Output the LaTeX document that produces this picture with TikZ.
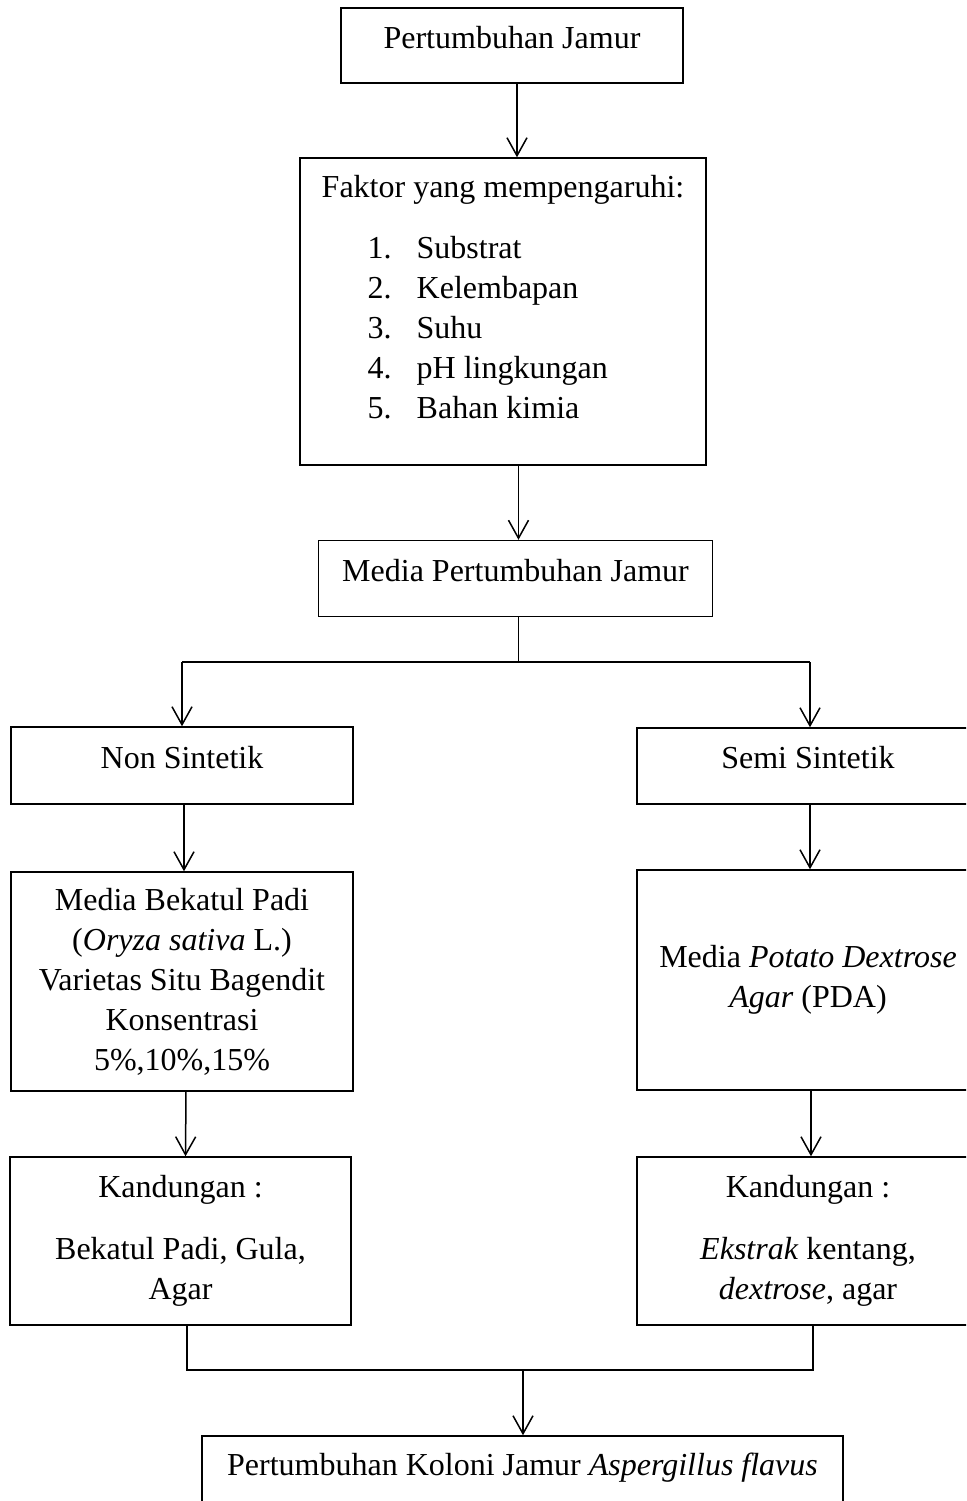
\documentclass[tikz,border=0pt]{standalone}
\usepackage{fontspec}
\setmainfont{Liberation Serif}
\usetikzlibrary{arrows.meta}

\begin{document}
\begin{tikzpicture}[x=0.5pt,y=-0.5pt]
\tikzset{kotak/.style={draw, rectangle, line width=0.75pt, inner sep=0pt, align=center, font=\fontsize{16}{20}\selectfont}}
\tikzset{satubaris/.style={text height=11pt, text depth=8.5pt}}
\tikzset{panah/.style={line width=0.75pt, -{Straight Barb[length=9pt, width=10pt, line width=0.75pt]}}}
\useasboundingbox (0,0) rectangle (966,1501);
\clip (0,0) rectangle (966,1501);
\node[kotak, satubaris, minimum width=171pt, minimum height=37.5pt] (J1) at (512,45.5) {Pertumbuhan Jamur};
\node[kotak, align=left, minimum width=203pt, minimum height=153.5pt] (faktor) at (503,311.5) {Faktor yang mempengaruhi:\\[10.5pt]
\hspace*{23pt}\makebox[24.5pt][l]{1.}Substrat\\
\hspace*{23pt}\makebox[24.5pt][l]{2.}Kelembapan\\
\hspace*{23pt}\makebox[24.5pt][l]{3.}Suhu\\
\hspace*{23pt}\makebox[24.5pt][l]{4.}pH lingkungan\\
\hspace*{23pt}\makebox[24.5pt][l]{5.}Bahan kimia\\[-5pt]\mbox{}};
\node[kotak, satubaris, minimum width=197pt, minimum height=38pt] (media) at (515.5,578.5) {Media Pertumbuhan Jamur};
\node[kotak, satubaris, minimum width=171pt, minimum height=38.5pt] (non) at (182,765.5) {Non Sintetik};
\node[kotak, satubaris, minimum width=171pt, minimum height=38pt] (semi) at (808,766) {Semi Sintetik};
\node[kotak, minimum width=171pt, minimum height=109.5pt] (bekatul) at (182,981.5) {Media Bekatul Padi\\(\textit{Oryza sativa} L.)\\Varietas Situ Bagendit\\Konsentrasi\\5\%,10\%,15\%};
\node[kotak, minimum width=171pt, minimum height=110pt] (pda) at (808,980) {Media \textit{Potato Dextrose}\\\textit{Agar} (PDA)};
\node[kotak, minimum width=170.5pt, minimum height=84pt] (kandkiri) at (180.5,1241) {Kandungan :\\[11pt]Bekatul Padi, Gula,\\Agar};
\node[kotak, minimum width=171pt, minimum height=84pt] (kandkanan) at (808,1241) {Kandungan :\\[11pt]\textit{Ekstrak} kentang,\\\textit{dextrose}, agar};
\node[kotak, satubaris, minimum width=320.5pt, minimum height=37pt] (hasil) at (522.5,1473) {Pertumbuhan Koloni Jamur \textit{Aspergillus flavus}};
\coordinate (cabang) at (518.5,662);
\coordinate (cabangkiri) at (182,662);
\coordinate (cabangkanan) at (810,662);
\coordinate (gabungkiri) at (187,1370);
\coordinate (gabungkanan) at (813,1370);
\coordinate (gabung) at (523,1370);
\draw[panah] ([xshift=2.5pt]J1.south) -- ([xshift=7pt]faktor.north);
\draw[panah] ([xshift=7.75pt]faktor.south) -- ([xshift=1.5pt]media.north);
\draw[line width=0.75pt] (media.south -| cabang) -- (cabang);
\draw[line width=0.75pt] (cabangkiri) -- (cabangkanan);
\draw[panah] (cabangkiri) -- (cabangkiri |- non.north);
\draw[panah] (cabangkanan) -- (cabangkanan |- semi.north);
\draw[panah] ([xshift=1pt]non.south) -- ([xshift=1pt]bekatul.north);
\draw[panah] ([xshift=1pt]semi.south) -- ([xshift=1pt]pda.north);
\draw[panah] ([xshift=2pt]bekatul.south) -- ([xshift=2.5pt]kandkiri.north);
\draw[panah] ([xshift=1.5pt]pda.south) -- ([xshift=1.5pt]kandkanan.north);
\draw[line width=0.75pt] (kandkiri.south -| gabungkiri) -- (gabungkiri) -- (gabungkanan) -- (kandkanan.south -| gabungkanan);
\draw[panah] (gabung) -- (gabung |- hasil.north);
\end{tikzpicture}
\end{document}
